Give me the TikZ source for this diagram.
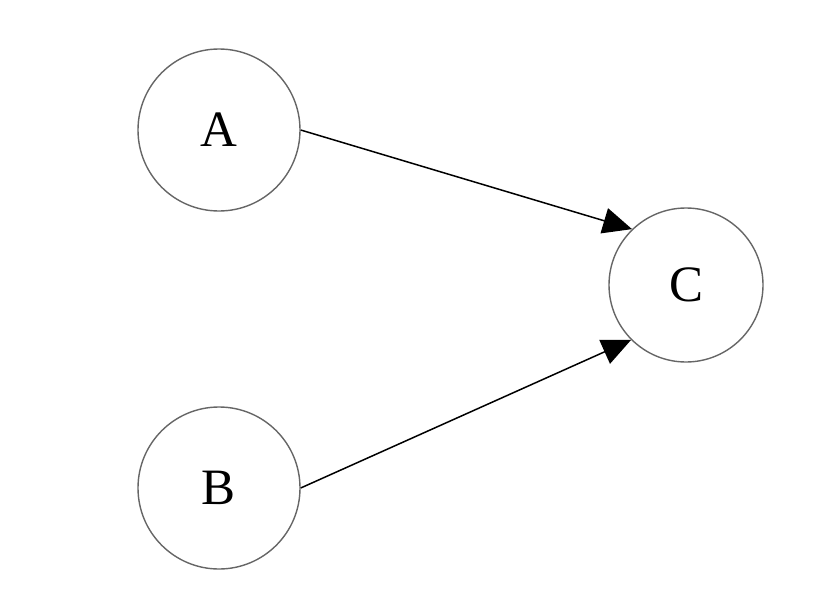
\documentclass[tikz,border=0pt]{standalone}
\usepackage{fontspec}
\setmainfont{Liberation Serif}
\usetikzlibrary{arrows.meta}
\begin{document}
\begin{tikzpicture}[x=1pt,y=-1pt,
  vertex/.style={circle,draw=black!60,line width=1.4pt,inner sep=0pt,font=\fontsize{51}{51}\selectfont},
  conn/.style={line width=1.5pt,-{Triangle[length=29pt,width=26pt]}}]
\useasboundingbox[fill=white] (0,0) rectangle (832,610);
\node[vertex,minimum size=162pt] (A) at (219,130) {A};
\node[vertex,minimum size=162pt] (B) at (219,488) {B};
\node[vertex,minimum size=154pt] (C) at (686,285) {C};
\draw[conn] (A.east) -- (C.134);
\draw[conn] (B.east) -- (C.225);
\end{tikzpicture}
\end{document}
